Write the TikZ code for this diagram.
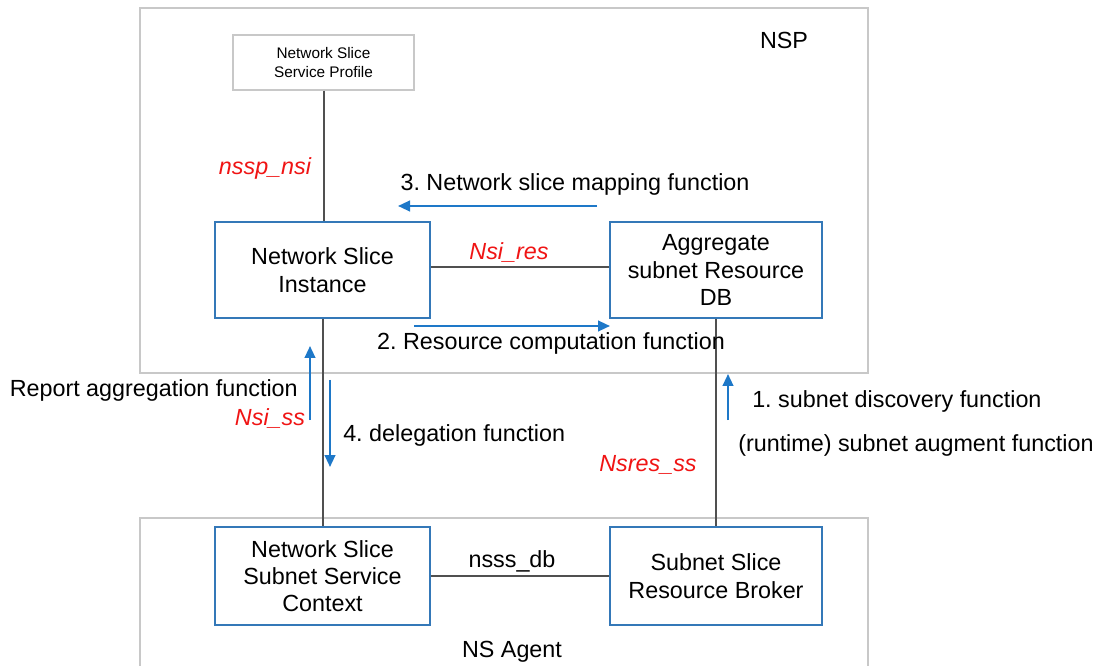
\documentclass[tikz,border=0pt]{standalone}
\usepackage{fontspec}
\setmainfont{Liberation Sans}
\frenchspacing
\usetikzlibrary{arrows.meta}
\definecolor{boxblue}{RGB}{52,120,184}
\definecolor{arrblue}{RGB}{30,120,200}
\definecolor{linegray}{RGB}{80,80,80}
\definecolor{framegray}{RGB}{200,200,200}
\definecolor{lblred}{RGB}{240,20,20}
\tikzset{
  bluebox/.style={draw=boxblue, line width=1.4pt, fill=white, align=center, inner sep=0pt,
    font=\fontsize{17.5}{20.5}\selectfont},
  frame/.style={draw=framegray, line width=1.3pt},
  conn/.style={draw=linegray, line width=1.5pt},
  flow/.style={draw=arrblue, line width=1.6pt, -{Triangle[length=9pt,width=8pt]}},
  lbl/.style={inner sep=0pt, font=\fontsize{17.5}{20.5}\selectfont},
  redlbl/.style={inner sep=0pt, text=lblred, font=\fontsize{17.5}{20.5}\selectfont\itshape},
}
\begin{document}
\begin{tikzpicture}[x=0.75pt,y=-0.75pt]
\clip (0,0) rectangle (1099,666);
\fill[white] (0,0) rectangle (1099,666);
% frames
\draw[frame] (140,8) rectangle (868,373);
\draw[frame] (140,518) rectangle (868,720);
\node[lbl] (nsp) at (784,40) {NSP};
\node[lbl] (nsagent) at (512,652) {NS Agent};
% boxes
\node[draw=framegray, line width=1pt, fill=white, align=center, inner sep=0pt,
  minimum width=135.75pt, minimum height=41.25pt,
  font=\fontsize{11.5}{14}\selectfont] (nssp) at (323.5,62.5) {Network Slice\\Service Profile};
\node[bluebox, minimum width=161.25pt, minimum height=72pt] (nsi) at (322.5,270) {Network Slice\\Instance};
\node[bluebox, minimum width=159pt, minimum height=72pt] (adb) at (716,270) {Aggregate\\subnet Resource\\DB};
\node[bluebox, minimum width=161.25pt, minimum height=73.5pt] (nsssc) at (322.5,576) {Network Slice\\Subnet Service\\Context};
\node[bluebox, minimum width=159pt, minimum height=73.5pt] (ssrb) at (716,576) {Subnet Slice\\Resource Broker};
% connectors
\draw[conn] (nssp.south) -- (nssp.south |- nsi.north);
\draw[conn] ([yshift=2.25pt]nsi.east) -- ([yshift=2.25pt]adb.west);
\draw[conn] (nsi.south) -- (nsi.south |- nsssc.north);
\draw[conn] (adb.south) -- (adb.south |- ssrb.north);
\draw[conn] (nsssc.east) -- (ssrb.west);
% labels
\node[redlbl] (l_nsspnsi) at (265,168) {nssp\_nsi};
\node[redlbl] (l_nsires) at (509,252) {Nsi\_res};
\node[redlbl] (l_nsiss) at (270,418) {Nsi\_ss};
\node[redlbl] (l_nsresss) at (648,465) {Nsres\_ss};
\node[lbl] (l_nsssdb) at (512,561) {nsss\_db};
\node[lbl] (l3) at (575,184) {3. Network slice mapping function};
\node[lbl] (l2) at (551,343) {2. Resource computation function};
\node[lbl, anchor=east] (lrep) at (298,390) {Report aggregation function};
\node[lbl, anchor=west] (l4) at (343,435) {4. delegation function};
\node[lbl, anchor=west] (l1) at (752,401) {1. subnet discovery function};
\node[lbl, anchor=west] (lrt) at (738,445) {(runtime) subnet augment function};
% flow arrows
\coordinate (a3s) at (597,206); \coordinate (a3e) at (398,206);
\coordinate (a2s) at (414,326); \coordinate (a2e) at (610,326);
\coordinate (ars) at (310,420); \coordinate (are) at (310,346);
\coordinate (a4s) at (330,380); \coordinate (a4e) at (330,467);
\coordinate (a1s) at (728,420); \coordinate (a1e) at (728,374);
\draw[flow] (a3s) -- (a3e);
\draw[flow] (a2s) -- (a2e);
\draw[flow] (ars) -- (are);
\draw[flow] (a4s) -- (a4e);
\draw[flow] (a1s) -- (a1e);
\end{tikzpicture}
\end{document}
